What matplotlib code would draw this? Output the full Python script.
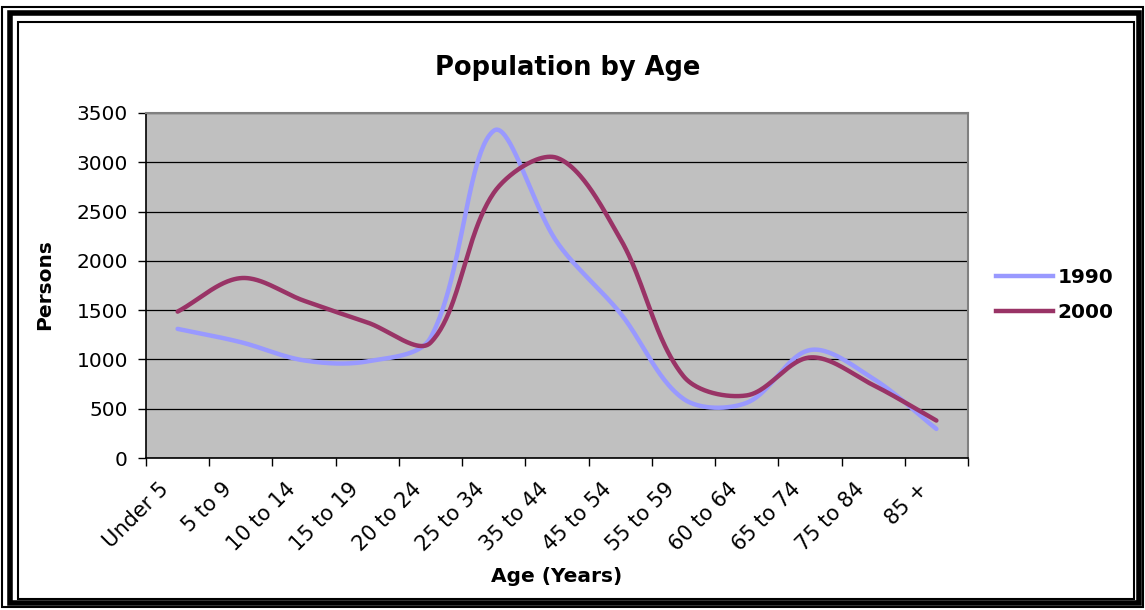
import numpy as np
import matplotlib
matplotlib.use("Agg")
import matplotlib.pyplot as plt
from matplotlib.patches import Rectangle
from matplotlib.lines import Line2D
from matplotlib.transforms import ScaledTranslation

# ---- data ----
categories = ['Under 5', '5 to 9', '10 to 14', '15 to 19', '20 to 24', '25 to 34',
              '35 to 44', '45 to 54', '55 to 59', '60 to 64', '65 to 74', '75 to 84', '85 +']
pop_1990 = [1310, 1175, 990, 980, 1220, 3320, 2190, 1470, 600, 560, 1095, 805, 295]
pop_2000 = [1485, 1825, 1595, 1375, 1170, 2690, 3045, 2225, 830, 635, 1020, 740, 380]
series_names = ['1990', '2000']
y_ticks = [0, 500, 1000, 1500, 2000, 2500, 3000, 3500]

plt.rcParams['font.family'] = ['DejaVu Sans']

W, H = 1145, 610
L, R, T, B = 146, 968, 113, 458
PX_X = (R - L) / len(categories)      # pixels per category
PX_Y = (B - T) / 3500.0               # pixels per person


def smooth(xs, ys, n=50):
    """Excel-like smoothed line: cubic Bezier segments whose control arms are
    weighted by neighbouring segment lengths (measured on screen)."""
    P = np.column_stack([xs, ys]).astype(float)
    S = np.array([PX_X, PX_Y])
    npts = len(P)
    cin = np.zeros_like(P)
    cout = np.zeros_like(P)
    for i in range(npts):
        p0 = P[max(i - 1, 0)]
        p2 = P[min(i + 1, npts - 1)]
        tang = p2 - p0
        d01 = np.linalg.norm((P[i] - p0) * S)
        d12 = np.linalg.norm((p2 - P[i]) * S)
        tot = d01 + d12
        cin[i] = P[i] - tang * (d01 / tot) / 3.0
        cout[i] = P[i] + tang * (d12 / tot) / 3.0
    t = np.linspace(0, 1, n)[:, None]
    out = []
    for i in range(npts - 1):
        a, b, c, d = P[i], cout[i], cin[i + 1], P[i + 1]
        seg = ((1 - t) ** 3) * a + 3 * ((1 - t) ** 2) * t * b + 3 * (1 - t) * t ** 2 * c + t ** 3 * d
        out.append(seg if i == 0 else seg[1:])
    cc = np.vstack(out)
    return cc[:, 0], cc[:, 1]


fig = plt.figure(figsize=(W / 100, H / 100), dpi=100)
fig.patch.set_facecolor('white')


def frect(x0, y0, x1, y1, lw, color='black'):
    fig.patches.append(Rectangle((x0 / W, 1 - y1 / H), (x1 - x0) / W, (y1 - y0) / H,
                                 transform=fig.transFigure, fill=False,
                                 linewidth=lw, edgecolor=color, zorder=0))


frect(2, 7, 1143, 607, 1.5)
frect(10.5, 12.5, 1138.5, 603, 4.0)
frect(17.5, 22, 1134, 598.5, 1.5)

ax = fig.add_axes([L / W, 1 - B / H, (R - L) / W, (B - T) / H])
ax.set_facecolor('#C0C0C0')

x = np.arange(len(categories))
colors = ['#9999FF', '#993366']
for vals, col, name in zip([pop_1990, pop_2000], colors, series_names):
    sx, sy = smooth(x, vals)
    ax.plot(sx, sy, color=col, linewidth=3.2, solid_capstyle='round', label=name, zorder=3)

ax.set_xlim(-0.5, len(categories) - 0.5)
ax.set_ylim(0, 3500)
ax.set_yticks(y_ticks)
ax.set_yticklabels([str(v) for v in y_ticks], fontsize=14.5)
ax.yaxis.grid(True, color='black', linewidth=0.9)
ax.set_axisbelow(True)

ax.set_xticks(np.arange(-0.5, len(categories)))
ax.set_xticklabels([])
ax.set_xticks(x, minor=True)
ax.set_xticklabels(categories, minor=True, rotation=45, ha='right', va='center',
                   rotation_mode='anchor', fontsize=15)
ax.tick_params(axis='x', which='minor', length=0, pad=20)
ax.tick_params(axis='x', which='major', length=6, width=1, direction='out')
ax.tick_params(axis='y', length=6, width=1, direction='out', pad=7)
off = ScaledTranslation(-12 / 100, 0, fig.dpi_scale_trans)
for lab in ax.get_xticklabels(minor=True):
    lab.set_transform(lab.get_transform() + off)

for s in ['left', 'bottom']:
    ax.spines[s].set_color('black')
    ax.spines[s].set_linewidth(1.2)
for s in ['top', 'right']:
    ax.spines[s].set_color('#808080')
    ax.spines[s].set_linewidth(1.5)

fig.text(568 / W, 1 - 68 / H, 'Population by Age', ha='center', va='center',
         fontsize=18.5, fontweight='bold')
fig.text(557 / W, 1 - 577 / H, 'Age (Years)', ha='center', va='center',
         fontsize=14.5, fontweight='bold')
fig.text(45 / W, 1 - 285 / H, 'Persons', ha='center', va='center', rotation=90,
         fontsize=14.5, fontweight='bold')

handles = [Line2D([], [], color=c, linewidth=3.2) for c in colors]
leg = fig.legend(handles, series_names, loc='center left',
                 bbox_to_anchor=(978 / W, 1 - 295 / H), frameon=False,
                 prop={'weight': 'bold', 'size': 14.5}, handlelength=2.8,
                 handletextpad=0.25, labelspacing=0.75)

fig.savefig('out.png', dpi=100)
